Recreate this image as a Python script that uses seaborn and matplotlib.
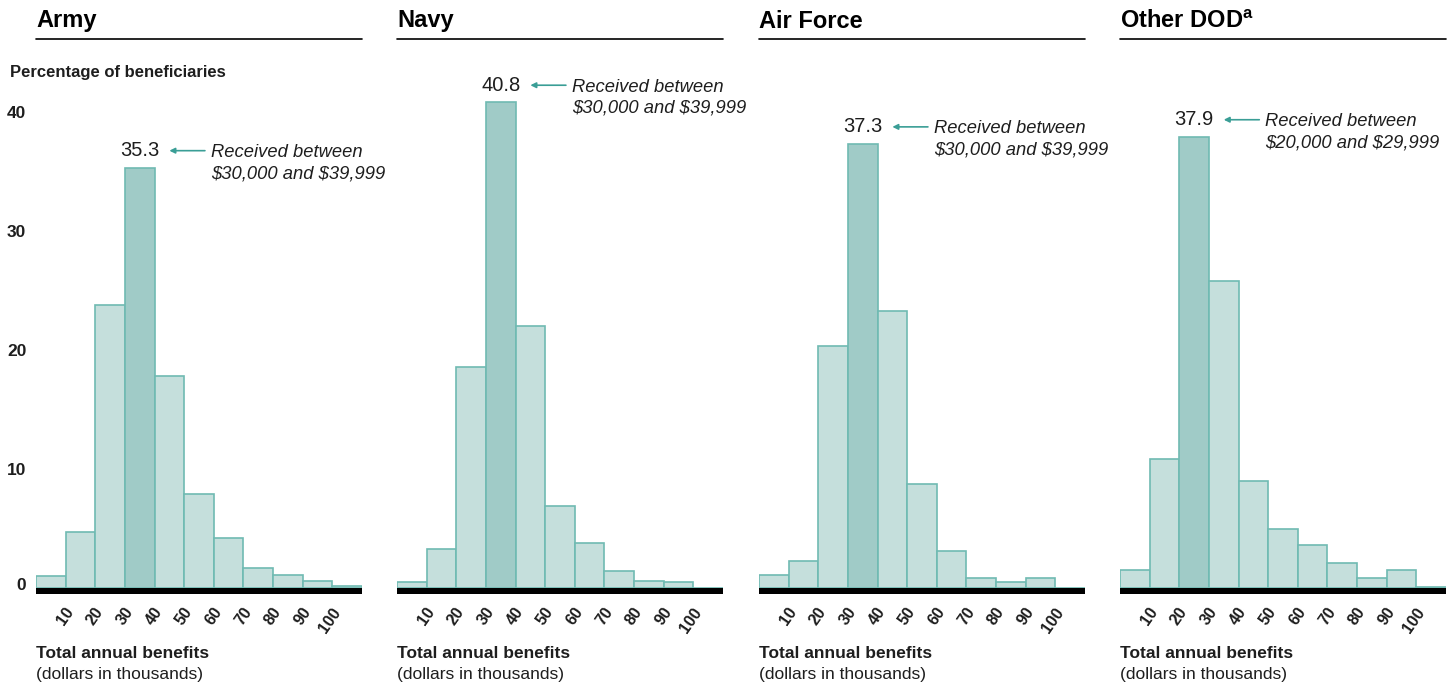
import numpy as np
import pandas as pd
import matplotlib
matplotlib.use("Agg")
import matplotlib.pyplot as plt
import matplotlib.transforms as mtransforms
from matplotlib.lines import Line2D
import seaborn as sns

# ---------------- data ----------------
bin_edges = [0, 10, 20, 30, 40, 50, 60, 70, 80, 90, 100, 110]
tick_values = [10, 20, 30, 40, 50, 60, 70, 80, 90, 100]
tick_labels = ["10", "20", "30", "40", "50", "60", "70", "80", "90", "100"]
y_ticks = [0, 10, 20, 30, 40]

army = [1.0, 4.7, 23.8, 35.3, 17.8, 7.9, 4.2, 1.7, 1.1, 0.55, 0.2]
navy = [0.5, 3.3, 18.6, 40.8, 22.0, 6.9, 3.8, 1.4, 0.6, 0.5, 0.0]
air_force = [1.1, 2.3, 20.3, 37.3, 23.3, 8.7, 3.1, 0.8, 0.5, 0.8, 0.0]
other_dod = [1.5, 10.8, 37.9, 25.8, 9.0, 5.0, 3.6, 2.1, 0.8, 1.5, 0.1]

titles = ["Army", "Navy", "Air Force", r"Other DOD$^{\mathbf{a}}$"]
peak_labels = ["35.3", "40.8", "37.3", "37.9"]
peak_notes = [
    "Received between\n$30,000 and $39,999",
    "Received between\n$30,000 and $39,999",
    "Received between\n$30,000 and $39,999",
    "Received between\n$20,000 and $29,999",
]
y_title = "Percentage of beneficiaries"
x_title = "Total annual benefits"
x_subtitle = "(dollars in thousands)"

series = [army, navy, air_force, other_dod]

# ---------------- style ----------------
sns.set_theme(style="white")
plt.rcParams["font.family"] = ["Liberation Sans", "DejaVu Sans"]
plt.rcParams["mathtext.fontset"] = "custom"
plt.rcParams["mathtext.rm"] = "Liberation Sans"
plt.rcParams["mathtext.bf"] = "Liberation Sans:bold"

TXT = "#1e1e1e"
FILL = "#c5dfdc"
FILL_PEAK = "#a0cbc7"
EDGE = "#6fbab2"
ARROW = "#3a9e96"

W, H = 1456, 688
fig = plt.figure(figsize=(W / 100, H / 100), dpi=100)

lefts_px = [36, 397, 759, 1120]
width_px = 326
px_per_unit = 11.9
ymin, ymax = -0.5, 42.5
ax_bottom_px = 588 + 0.5 * px_per_unit  # from top
ax_height_px = (ymax - ymin) * px_per_unit

def fx(px):
    return px / W

def fy(py):
    return 1 - py / H

centers = [e + 5 for e in bin_edges[:-1]]
label_shift = mtransforms.ScaledTranslation(5 / 100, 0, fig.dpi_scale_trans)
zero_shift = mtransforms.ScaledTranslation(0, 4 / 100, fig.dpi_scale_trans)

for i, (vals, title) in enumerate(zip(series, titles)):
    left = lefts_px[i]
    ax = fig.add_axes([fx(left), (H - ax_bottom_px) / H, width_px / W, ax_height_px / H])
    df = pd.DataFrame({"benefit": centers, "pct": vals})
    sns.histplot(data=df, x="benefit", weights="pct", bins=bin_edges, ax=ax,
                 color=FILL, edgecolor=EDGE, linewidth=1.2, alpha=1)
    peak = int(np.argmax(vals))
    for j, p in enumerate(ax.patches):
        p.set_facecolor(FILL_PEAK if j == peak else FILL)
        p.set_edgecolor(EDGE)
    ax.set_xlim(0, 110)
    ax.set_ylim(ymin, ymax)
    ax.axhspan(ymin, 0, color="black", zorder=5, lw=0)
    for s in ax.spines.values():
        s.set_visible(False)
    ax.set_xlabel("")
    ax.set_ylabel("")
    ax.set_xticks(tick_values)
    ax.tick_params(axis="x", length=0, pad=11)
    ax.set_xticklabels(tick_labels, rotation=55, ha="right", va="center",
                       rotation_mode="anchor", fontsize=11.5,
                       fontweight="bold", color=TXT)
    if i == 0:
        ax.set_yticks(y_ticks)
        ax.tick_params(axis="y", length=0, pad=7)
        ax.set_yticklabels([str(v) for v in y_ticks], fontsize=12.5,
                           fontweight="bold", color=TXT)
    else:
        ax.set_yticks([])
    ax.grid(False)
    for lab in ax.get_xticklabels():
        lab.set_transform(lab.get_transform() + label_shift)
    if i == 0:
        ylabs = ax.get_yticklabels()
        ylabs[0].set_transform(ylabs[0].get_transform() + zero_shift)

    # peak annotation
    v = vals[peak]
    xc = bin_edges[peak] + 5
    xr = bin_edges[peak + 1]
    ly = v + 1.45
    ax.text(xc, ly, peak_labels[i], ha="center", va="center", fontsize=14.5,
            color=TXT)
    ax.annotate("", xy=(xr + 5, ly), xytext=(xr + 17, ly),
                arrowprops=dict(arrowstyle="-|>", color=ARROW, lw=1.2,
                                mutation_scale=8, shrinkA=0, shrinkB=0))
    ax.text(xr + 19, ly + 0.55, peak_notes[i], ha="left", va="top",
            fontsize=13.2, style="italic", color=TXT, linespacing=1.3,
            parse_math=False)

    # panel title and rule
    fig.text(fx(left), fy(21), title, ha="left", va="center", fontsize=17,
             fontweight="bold", color="black")
    fig.add_artist(Line2D([fx(left), fx(left + width_px)], [fy(39), fy(39)],
                          color="black", lw=1.2))

    # x-axis titles
    fig.text(fx(left), fy(654), x_title, ha="left", va="center", fontsize=12.5,
             fontweight="bold", color=TXT)
    fig.text(fx(left), fy(675), x_subtitle, ha="left", va="center", fontsize=12.5,
             color=TXT)

fig.text(fx(10), fy(73), y_title, ha="left", va="center", fontsize=12,
         fontweight="bold", color=TXT)

fig.savefig("out.png", dpi=100)
